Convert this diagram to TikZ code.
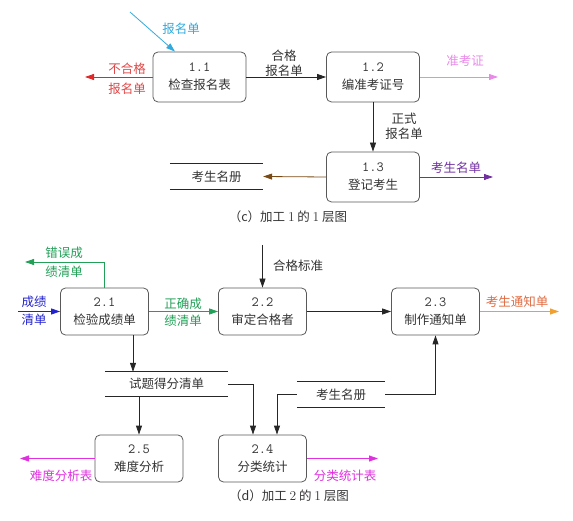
\documentclass[tikz,border=0pt]{standalone}
\usepackage{fontspec}
\newfontfamily\cjk{Noto Sans CJK SC}
\usetikzlibrary{arrows.meta}
\definecolor{ccyan}{HTML}{33AADD}
\definecolor{cred}{HTML}{E02828}
\definecolor{credtxt}{HTML}{E04848}
\definecolor{cpink}{HTML}{E88AE8}
\definecolor{cpurple}{HTML}{7030A0}
\definecolor{cbrown}{HTML}{7A4A14}
\definecolor{cgreen}{HTML}{22A058}
\definecolor{cblue}{HTML}{2222CC}
\definecolor{corange}{HTML}{F0A030}
\definecolor{corangetxt}{HTML}{E06A40}
\definecolor{cmag}{HTML}{E030E0}
\definecolor{ctxt}{HTML}{333333}
\newcommand{\pnum}[1]{{\ttfamily\fontsize{14}{18}\selectfont #1}}
\newcommand{\cnum}[1]{{\rmfamily\fontsize{13.5}{15}\selectfont #1}}
\begin{document}
\begin{tikzpicture}[x=1pt,y=-1pt,
  font=\cjk\fontsize{12.5}{18}\selectfont,
  text=ctxt,
  proc/.style={draw=black!65, line width=0.8pt, rounded corners=5pt,
    minimum width=93pt, minimum height=50pt, align=center, inner sep=0pt},
  procd/.style={proc, minimum width=88pt, minimum height=47pt},
  store/.style={inner sep=0pt, minimum height=25pt},
  sline/.style={line width=0.8pt, draw=black!85},
  arr/.style={-{Triangle[length=9pt,width=6pt]}, line width=0.8pt},
  lbl/.style={align=center, inner sep=0pt, font=\cjk\fontsize{12.5}{15}\selectfont},
  captxt/.style={inner sep=0pt, font=\cjk\fontsize{12.5}{15}\selectfont},
]
\useasboundingbox (0,0) rectangle (573,521);

% ---------- (c) ----------
\node[proc] (b11) at (199.5,77) {\pnum{1.1}\\检查报名表};
\node[proc] (b12) at (373,77) {\pnum{1.2}\\编准考证号};
\node[proc] (b13) at (373,177) {\pnum{1.3}\\登记考生};
\node[store, minimum width=93pt] (s1) at (216.5,176.5) {考生名册};
\draw[sline] (s1.north west) -- (s1.north east) (s1.south west) -- (s1.south east);

\coordinate (cin) at (130,12);
\coordinate (cnot) at (85,77);
\coordinate (czkz) at (498,77);
\coordinate (cksmd) at (493,177);

\draw[arr, ccyan] (cin) -- ([xshift=-24.5]b11.north);
\node[lbl, text=ccyan] (lin) at (181,29) {报名单};

\draw[arr, cred] (b11.west) -- (cnot);
\node[lbl, text=credtxt] (lnot1) at (127,69) {不合格};
\node[lbl, text=credtxt] (lnot2) at (127,89) {报名单};

\draw[arr, black!85] (b11.east) -- (b12.west);
\node[lbl] (lhg) at (284,63) {合格\\报名单};

\draw[arr, cpink] (b12.east) -- (czkz);
\node[lbl, text=cpink] (lzkz) at (465,61) {准考证};

\draw[arr, black!85] (b12.south) -- (b13.north);
\node[lbl] (lzs) at (404,126) {正式\\报名单};

\draw[arr, cpurple] (b13.east) -- (cksmd);
\node[lbl, text=cpurple] (lksmd) at (456,168) {考生名单};

\draw[arr, cbrown] (b13.west) -- (s1.east);

\node[captxt] (capc) at (288,217) {（c）加工 \cnum{1} 的 \cnum{1} 层图};

% ---------- (d) ----------
\node[procd] (b21) at (104.5,311.5) {\pnum{2.1}\\检验成绩单};
\node[procd] (b22) at (262.5,311.5) {\pnum{2.2}\\审定合格者};
\node[procd] (b23) at (435.5,311.5) {\pnum{2.3}\\制作通知单};
\node[procd] (b25) at (139,458.5) {\pnum{2.5}\\难度分析};
\node[procd] (b24) at (262.5,458.5) {\pnum{2.4}\\分类统计};

\node[store, minimum width=123pt, minimum height=24pt] (s2) at (166.5,384) {试题得分清单};
\draw[sline] (s2.north west) -- (s2.north east) (s2.south west) -- (s2.south east);
\node[store, minimum width=88pt] (s3) at (341,394.5) {考生名册};
\draw[sline] (s3.north west) -- (s3.north east) (s3.south west) -- (s3.south east);

\coordinate (cerr) at (25,262);
\coordinate (ccj) at (18,311.5);
\coordinate (chgbz) at (262.5,245);
\coordinate (ctz) at (559,311.5);
\coordinate (cnd) at (20,458.5);
\coordinate (cfl) at (378,458.5);

\draw[arr, cgreen] (b21.north) |- (cerr);
\node[lbl, text=cgreen] (lerr1) at (64,253) {错误成};
\node[lbl, text=cgreen] (lerr2) at (64,272) {绩清单};

\draw[arr, cblue] (ccj) -- (b21.west);
\node[lbl, text=cblue] (lcj1) at (34,302) {成绩};
\node[lbl, text=cblue] (lcj2) at (34,320) {清单};

\draw[arr, cgreen] (b21.east) -- (b22.west);
\node[lbl, text=cgreen] (lzq1) at (183,304) {正确成};
\node[lbl, text=cgreen] (lzq2) at (183,321) {绩清单};

\draw[arr, black!85] (chgbz) -- (b22.north);
\node[lbl] (lhgbz) at (298,266) {合格标准};

\draw[arr, black!85] (b22.east) -- (b23.west);

\draw[arr, corange] (b23.east) -- (ctz);
\node[lbl, text=corangetxt] (ltz) at (517,302) {考生通知单};

\draw[arr, black!85] ([xshift=28.5]b21.south) -- ([xshift=28.5]b21.south |- s2.north);
\draw[arr, black!85] (b25.north |- s2.south) -- (b25.north);
\draw[arr, black!85] (s2.east) -| ([xshift=-9.5]b24.north);
\draw[arr, black!85] (s3.west) -| ([xshift=14.5]b24.north);
\draw[arr, black!85] (s3.east) -| (b23.south);

\draw[arr, cmag] (b25.west) -- (cnd);
\node[lbl, text=cmag] (lnd) at (61,476) {难度分析表};

\draw[arr, cmag] (b24.east) -- (cfl);
\node[lbl, text=cmag] (lfl) at (345,476) {分类统计表};

\node[captxt] (capd) at (289,496) {（d）加工 \cnum{2} 的 \cnum{1} 层图};
\end{tikzpicture}
\end{document}
